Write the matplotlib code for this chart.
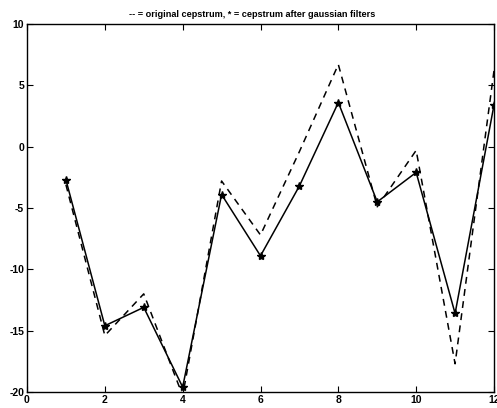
import matplotlib
matplotlib.use("Agg")
import matplotlib.pyplot as plt

# cepstral coefficient index
coef_index = [1, 2, 3, 4, 5, 6, 7, 8, 9, 10, 11, 12]
# original cepstrum (dashed)
original_cep = [-3.1, -15.4, -12.0, -20.3, -2.8, -7.2, -0.4, 6.7, -4.9, -0.3, -17.7, 6.2]
# cepstrum after gaussian filters (solid with stars)
filtered_cep = [-2.7, -14.6, -13.1, -19.6, -3.9, -8.9, -3.2, 3.6, -4.5, -2.1, -13.6, 3.4]

x_ticks = [0, 2, 4, 6, 8, 10, 12]
y_ticks = [-20, -15, -10, -5, 0, 5, 10]

plt.rcParams["font.family"] = ["Liberation Sans", "DejaVu Sans"]
plt.rcParams["axes.unicode_minus"] = False

fig = plt.figure(figsize=(4.97, 4.08), dpi=100)
ax = fig.add_axes([27 / 497, 16 / 408, (494 - 27) / 497, (392 - 24) / 408])

ax.plot(coef_index, original_cep, linestyle=(0, (4.5, 3.5)), color="black", linewidth=1.1)
ax.plot(coef_index, filtered_cep, linestyle="-", color="black", linewidth=1.1,
        marker="*", markersize=6, markerfacecolor="black", markeredgecolor="black")

ax.set_xlim(0, 12)
ax.set_ylim(-20, 10)
ax.set_xticks(x_ticks)
ax.set_yticks(y_ticks)
ax.set_xticklabels([str(t) for t in x_ticks])
ax.set_yticklabels([str(t) for t in y_ticks])
ax.tick_params(direction="in", length=4, width=0.8, top=True, right=True,
               labelsize=7.5, pad=2)
for lbl in ax.get_xticklabels() + ax.get_yticklabels():
    lbl.set_fontweight("bold")
for s in ax.spines.values():
    s.set_linewidth(1.0)

ax.set_title("-- = original cepstrum, * = cepstrum after gaussian filters",
             fontsize=6.6, fontweight="bold", pad=5, x=0.482)

fig.savefig("out.png", dpi=100)
